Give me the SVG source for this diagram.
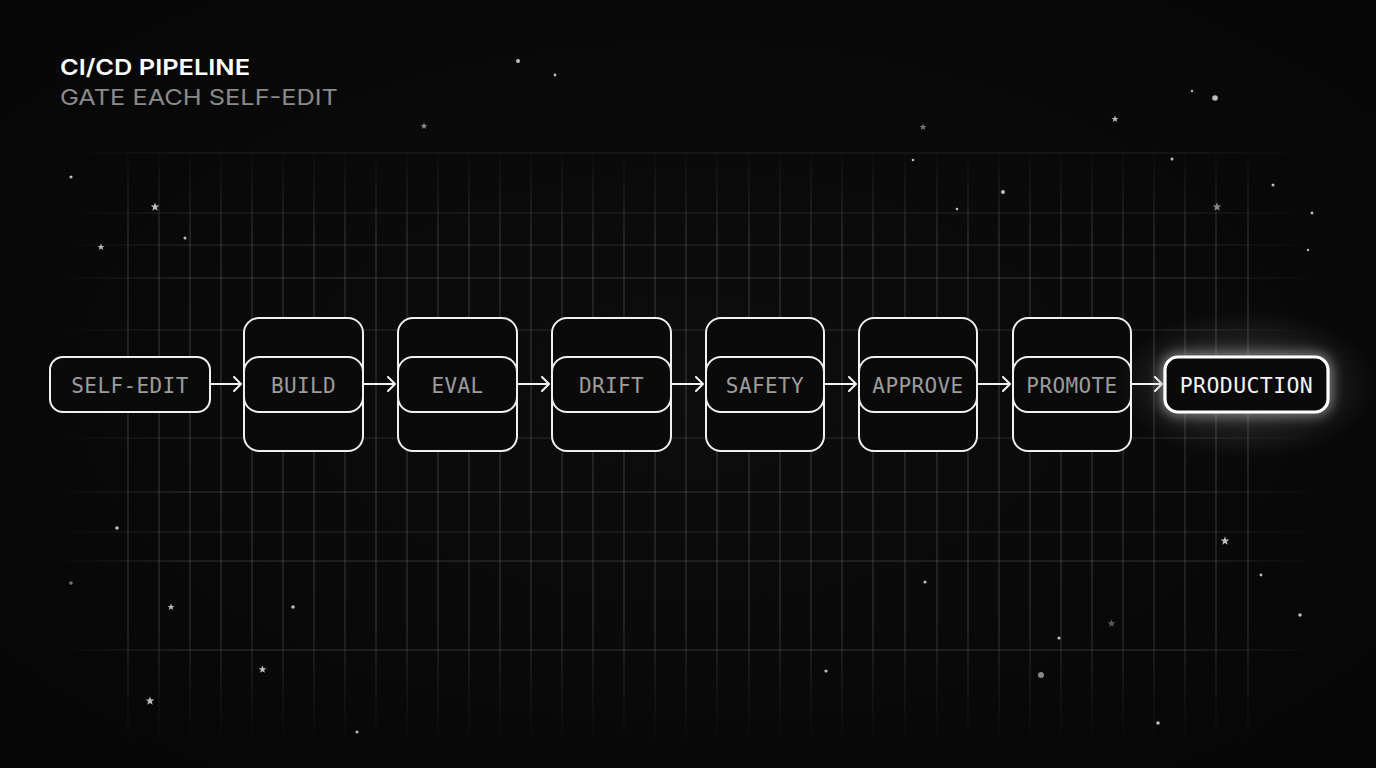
<svg xmlns="http://www.w3.org/2000/svg" width="1376" height="768" viewBox="0 0 1376 768">
<defs>
  <radialGradient id="bg" cx="50%" cy="50%" r="70%">
    <stop offset="0" stop-color="#0d0d0d"/>
    <stop offset="1" stop-color="#060606"/>
  </radialGradient>
  <linearGradient id="vfade" gradientUnits="userSpaceOnUse" x1="0" y1="145" x2="0" y2="745">
    <stop offset="0" stop-color="#ffffff" stop-opacity="0"/>
    <stop offset="0.15" stop-color="#ffffff" stop-opacity="0.16"/>
    <stop offset="0.8" stop-color="#ffffff" stop-opacity="0.16"/>
    <stop offset="1" stop-color="#ffffff" stop-opacity="0"/>
  </linearGradient>
  <linearGradient id="hfade" gradientUnits="userSpaceOnUse" x1="55" y1="0" x2="1320" y2="0">
    <stop offset="0" stop-color="#ffffff" stop-opacity="0"/>
    <stop offset="0.1" stop-color="#ffffff" stop-opacity="0.16"/>
    <stop offset="0.9" stop-color="#ffffff" stop-opacity="0.16"/>
    <stop offset="1" stop-color="#ffffff" stop-opacity="0"/>
  </linearGradient>
  <radialGradient id="halo" cx="50%" cy="50%" r="50%">
    <stop offset="0" stop-color="#ffffff" stop-opacity="0.22"/>
    <stop offset="0.6" stop-color="#ffffff" stop-opacity="0.08"/>
    <stop offset="1" stop-color="#ffffff" stop-opacity="0"/>
  </radialGradient>
  <filter id="glow" x="-40%" y="-80%" width="180%" height="260%">
    <feGaussianBlur in="SourceGraphic" stdDeviation="7" result="b"/>
    <feMerge><feMergeNode in="b"/><feMergeNode in="SourceGraphic"/></feMerge>
  </filter>
  <marker id="arr" markerWidth="12" markerHeight="16" refX="10" refY="8" orient="auto" markerUnits="userSpaceOnUse">
    <path d="M3,1 L10,8 L3,15" fill="none" stroke="#f2f2f2" stroke-width="2" stroke-linecap="round" stroke-linejoin="round"/>
  </marker>
  <symbol id="star" viewBox="-5 -5 10 10" overflow="visible">
    <path d="M0,-4.5 L1.2,-1.4 L4.3,-1.4 L1.8,0.6 L2.7,3.7 L0,1.9 L-2.7,3.7 L-1.8,0.6 L-4.3,-1.4 L-1.2,-1.4 Z"/>
  </symbol>
</defs>
<style>
  .box{fill:#0a0a0a;stroke:#f0f0f0;stroke-width:2}
  .lbl{font-family:"DejaVu Sans Mono","Liberation Mono",monospace;font-size:21px;fill:#9c9c9c;text-anchor:middle;letter-spacing:0.4px}
  .conn{stroke:#f2f2f2;stroke-width:2;fill:none;marker-end:url(#arr)}
  .vl{stroke:url(#vfade);stroke-width:1.2}
  .hl{stroke:url(#hfade);stroke-width:1.2}
  .dot{fill:#bdbdbd}
  .st{fill:#bdbdbd}
</style>
<rect width="1376" height="768" fill="url(#bg)"/>

<g id="grid">
  <g class="vl">
    <line x1="128" y1="145" x2="128" y2="745"/><line x1="159" y1="145" x2="159" y2="745"/><line x1="190" y1="145" x2="190" y2="745"/><line x1="221" y1="145" x2="221" y2="745"/><line x1="252" y1="145" x2="252" y2="745"/><line x1="283" y1="145" x2="283" y2="745"/><line x1="314" y1="145" x2="314" y2="745"/><line x1="345" y1="145" x2="345" y2="745"/><line x1="376" y1="145" x2="376" y2="745"/><line x1="407" y1="145" x2="407" y2="745"/><line x1="438" y1="145" x2="438" y2="745"/><line x1="469" y1="145" x2="469" y2="745"/><line x1="500" y1="145" x2="500" y2="745"/><line x1="531" y1="145" x2="531" y2="745"/><line x1="562" y1="145" x2="562" y2="745"/><line x1="593" y1="145" x2="593" y2="745"/><line x1="624" y1="145" x2="624" y2="745"/><line x1="655" y1="145" x2="655" y2="745"/><line x1="686" y1="145" x2="686" y2="745"/><line x1="717" y1="145" x2="717" y2="745"/><line x1="749" y1="145" x2="749" y2="745"/><line x1="780" y1="145" x2="780" y2="745"/><line x1="811" y1="145" x2="811" y2="745"/><line x1="842" y1="145" x2="842" y2="745"/><line x1="873" y1="145" x2="873" y2="745"/><line x1="905" y1="145" x2="905" y2="745"/><line x1="937" y1="145" x2="937" y2="745"/><line x1="968" y1="145" x2="968" y2="745"/><line x1="999" y1="145" x2="999" y2="745"/><line x1="1030" y1="145" x2="1030" y2="745"/><line x1="1061" y1="145" x2="1061" y2="745"/><line x1="1092" y1="145" x2="1092" y2="745"/><line x1="1123" y1="145" x2="1123" y2="745"/><line x1="1154" y1="145" x2="1154" y2="745"/><line x1="1185" y1="145" x2="1185" y2="745"/><line x1="1216" y1="145" x2="1216" y2="745"/><line x1="1248" y1="145" x2="1248" y2="745"/>
  </g>
  <g class="hl">
    <line x1="55" y1="153" x2="1320" y2="153" opacity="0.6"/>
    <line x1="55" y1="213" x2="1320" y2="213" opacity="0.7"/>
    <line x1="55" y1="245" x2="1320" y2="245" opacity="0.8"/>
    <line x1="55" y1="278" x2="1320" y2="278"/>
    <line x1="55" y1="330" x2="1320" y2="330" opacity="0.8"/>
    <line x1="55" y1="384" x2="1320" y2="384" opacity="0.6"/>
    <line x1="55" y1="438" x2="1320" y2="438" opacity="0.8"/>
    <line x1="55" y1="492" x2="1320" y2="492"/>
    <line x1="55" y1="532" x2="1320" y2="532" opacity="0.8"/>
    <line x1="55" y1="561" x2="1320" y2="561"/>
    <line x1="55" y1="650" x2="1320" y2="650"/>
  </g>
</g>

<g id="stars">
  <circle class="dot" cx="518" cy="61" r="2"/>
  <circle class="dot" cx="555" cy="75" r="1.4"/>
  <circle class="dot" cx="1192" cy="91" r="1.2"/>
  <circle class="dot" cx="1215" cy="98" r="2.8"/>
  <circle class="dot" cx="71" cy="177" r="1.6"/>
  <circle class="dot" cx="185" cy="238" r="1.5"/>
  <circle class="dot" cx="913" cy="160" r="1.3"/>
  <circle class="dot" cx="1172" cy="159" r="1.5"/>
  <circle class="dot" cx="957" cy="209" r="1.3"/>
  <circle class="dot" cx="1273" cy="185" r="1.5"/>
  <circle class="dot" cx="1312" cy="213" r="1.4"/>
  <circle class="dot" cx="1308" cy="250" r="1.2"/>
  <circle class="dot" cx="117" cy="528" r="1.8"/>
  <circle class="dot" cx="71" cy="583" r="1.8" opacity="0.6"/>
  <circle class="dot" cx="293" cy="607" r="1.8"/>
  <circle class="dot" cx="925" cy="582" r="1.6"/>
  <circle class="dot" cx="1261" cy="575" r="1.4"/>
  <circle class="dot" cx="1059" cy="638" r="1.6"/>
  <circle class="dot" cx="1041" cy="675" r="3" opacity="0.7"/>
  <circle class="dot" cx="826" cy="671" r="1.6"/>
  <circle class="dot" cx="357" cy="732" r="1.5"/>
  <circle class="dot" cx="1158" cy="723" r="1.8"/>
  <circle class="dot" cx="1003" cy="192" r="2"/>
  <circle class="dot" cx="1300" cy="615" r="1.8"/>
  <use href="#star" class="st" x="420" y="122" width="8" height="8" opacity="0.7"/>
  <use href="#star" class="st" x="919" y="123" width="8" height="8" opacity="0.6"/>
  <use href="#star" class="st" x="1111" y="115" width="8" height="8"/>
  <use href="#star" class="st" x="150" y="202" width="10" height="10"/>
  <use href="#star" class="st" x="97" y="243" width="8" height="8"/>
  <use href="#star" class="st" x="1212" y="202" width="10" height="10" opacity="0.7"/>
  <use href="#star" class="st" x="1220" y="536" width="10" height="10"/>
  <use href="#star" class="st" x="167" y="603" width="8" height="8"/>
  <use href="#star" class="st" x="258" y="665" width="9" height="9"/>
  <use href="#star" class="st" x="145" y="696" width="10" height="10"/>
  <use href="#star" class="st" x="1107" y="619" width="9" height="9" opacity="0.45"/>
</g>

<g id="title">
  <text x="60" y="75" font-family="Inter,'Liberation Sans',sans-serif" font-weight="600" font-size="22" fill="#ffffff" textLength="190" lengthAdjust="spacingAndGlyphs">CI/CD PIPELINE</text>
  <text x="60" y="105" font-family="Inter,'Liberation Sans',sans-serif" font-weight="400" font-size="22" fill="#8a8a8a" textLength="278" lengthAdjust="spacingAndGlyphs">GATE EACH SELF-EDIT</text>
</g>

<g id="connectors">
  <line class="conn" x1="211" y1="384" x2="241" y2="384"/>
  <line class="conn" x1="364" y1="384" x2="395" y2="384"/>
  <line class="conn" x1="518" y1="384" x2="549" y2="384"/>
  <line class="conn" x1="672" y1="384" x2="703" y2="384"/>
  <line class="conn" x1="825" y1="384" x2="856" y2="384"/>
  <line class="conn" x1="978" y1="384" x2="1010" y2="384"/>
  <line class="conn" x1="1132" y1="384" x2="1162" y2="384"/>
</g>

<g id="node-self-edit">
  <rect class="box" x="50" y="357" width="160" height="55" rx="13"/>
  <text class="lbl" x="130" y="393">SELF-EDIT</text>
</g>
<g id="node-build">
  <rect class="box" x="244" y="318" width="119" height="133" rx="15"/>
  <rect class="box" x="244" y="357" width="119" height="55" rx="15"/>
  <text class="lbl" x="303.5" y="393">BUILD</text>
</g>
<g id="node-eval">
  <rect class="box" x="398" y="318" width="119" height="133" rx="15"/>
  <rect class="box" x="398" y="357" width="119" height="55" rx="15"/>
  <text class="lbl" x="457.5" y="393">EVAL</text>
</g>
<g id="node-drift">
  <rect class="box" x="552" y="318" width="119" height="133" rx="15"/>
  <rect class="box" x="552" y="357" width="119" height="55" rx="15"/>
  <text class="lbl" x="611.5" y="393">DRIFT</text>
</g>
<g id="node-safety">
  <rect class="box" x="706" y="318" width="118" height="133" rx="15"/>
  <rect class="box" x="706" y="357" width="118" height="55" rx="15"/>
  <text class="lbl" x="765" y="393">SAFETY</text>
</g>
<g id="node-approve">
  <rect class="box" x="859" y="318" width="118" height="133" rx="15"/>
  <rect class="box" x="859" y="357" width="118" height="55" rx="15"/>
  <text class="lbl" x="918" y="393">APPROVE</text>
</g>
<g id="node-promote">
  <rect class="box" x="1013" y="318" width="118" height="133" rx="15"/>
  <rect class="box" x="1013" y="357" width="118" height="55" rx="15"/>
  <text class="lbl" x="1072" y="393">PROMOTE</text>
</g>
<g id="node-production">
  <ellipse cx="1246.5" cy="384.5" rx="130" ry="75" fill="url(#halo)"/>
  <rect x="1165" y="357" width="163" height="55" rx="13" fill="#0a0a0a" stroke="#ffffff" stroke-width="3.2" filter="url(#glow)"/>
  <rect x="1167" y="359" width="159" height="51" rx="11" fill="#0a0a0a"/>
  <text class="lbl" x="1246.5" y="393" style="fill:#f4f4f4;font-size:21.5px">PRODUCTION</text>
</g>
</svg>
